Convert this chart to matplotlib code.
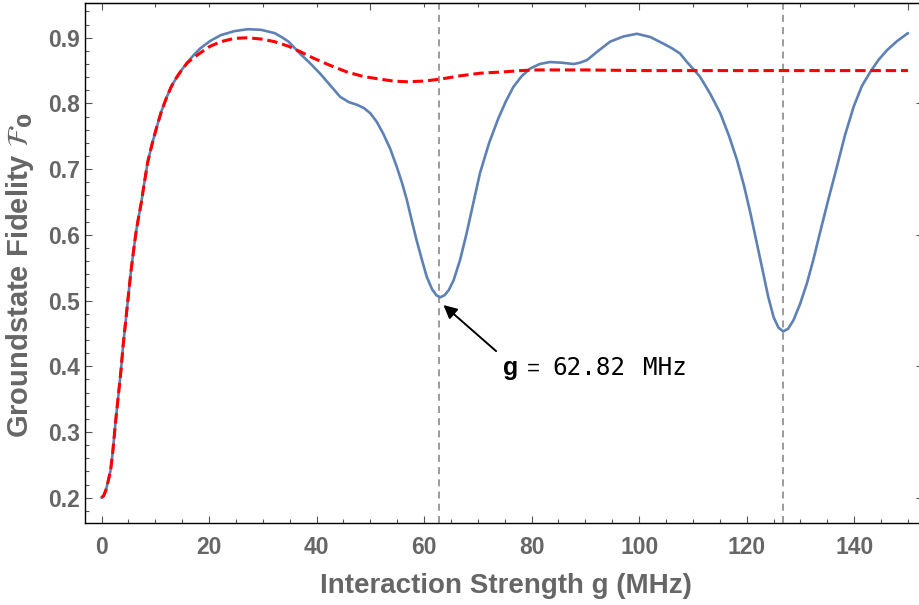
import matplotlib
matplotlib.use("Agg")
import matplotlib.pyplot as plt
from matplotlib.ticker import MultipleLocator

# ---- data ----
blue_x = [0.0, 0.4, 0.8, 1.2, 1.7, 2.1, 2.6, 3.1, 3.6, 4.0, 4.5, 5.0, 5.5, 6.0, 6.4,
          6.9, 7.4, 8.0, 8.6, 9.4, 10.2, 11.1, 12.1, 13.0, 14.0, 15.0, 16.0, 17.2,
          18.4, 20.2, 22.2, 24.7, 27.2, 29.7, 32.2, 33.5, 34.8, 36.9, 38.7, 40.6,
          42.5, 44.4, 46.0, 47.5, 48.8, 50.0, 51.2, 52.4, 53.7, 54.9, 55.9, 56.8,
          57.7, 58.6, 59.6, 60.5, 61.5, 62.3, 63.0, 63.8, 64.6, 65.5, 66.7, 67.9,
          69.2, 70.4, 72.1, 73.8, 75.2, 76.6, 78.1, 79.7, 81.5, 83.4, 85.6, 87.8,
          89.0, 90.3, 92.4, 94.6, 97.1, 99.6, 102.1, 104.5, 106.1, 107.6, 108.9,
          111.3, 113.2, 115.1, 116.7, 118.2, 119.5, 120.7, 121.9, 123.1, 124.0,
          125.0, 125.9, 126.8, 127.7, 128.7, 129.9, 131.2, 132.4, 133.6, 135.2,
          136.8, 138.3, 139.9, 141.4, 143.0, 144.5, 146.1, 148.0, 150.0]
blue_y = [0.200, 0.203, 0.211, 0.224, 0.242, 0.270, 0.314, 0.353, 0.392, 0.430, 0.469,
          0.508, 0.546, 0.578, 0.603, 0.627, 0.649, 0.681, 0.711, 0.738, 0.762, 0.787,
          0.809, 0.826, 0.840, 0.852, 0.863, 0.874, 0.884, 0.895, 0.904, 0.910, 0.913,
          0.912, 0.907, 0.901, 0.894, 0.876, 0.862, 0.846, 0.828, 0.810, 0.802, 0.798,
          0.793, 0.785, 0.772, 0.754, 0.731, 0.704, 0.679, 0.653, 0.622, 0.592, 0.562,
          0.536, 0.517, 0.508, 0.505, 0.508, 0.516, 0.531, 0.562, 0.602, 0.650, 0.694,
          0.740, 0.777, 0.803, 0.825, 0.841, 0.853, 0.860, 0.863, 0.862, 0.860, 0.862,
          0.866, 0.880, 0.894, 0.902, 0.906, 0.901, 0.891, 0.884, 0.876, 0.863, 0.841,
          0.815, 0.785, 0.751, 0.714, 0.675, 0.633, 0.587, 0.541, 0.506, 0.475, 0.459,
          0.453, 0.457, 0.470, 0.494, 0.526, 0.562, 0.602, 0.654, 0.704, 0.752, 0.795,
          0.826, 0.848, 0.866, 0.881, 0.895, 0.907]

red_x = [0.0, 0.4, 0.8, 1.2, 1.7, 2.1, 2.6, 3.1, 3.6, 4.0, 4.5, 5.0, 5.5, 6.0, 6.4,
         6.9, 7.4, 8.0, 8.6, 9.4, 10.2, 11.1, 12.1, 13.0, 14.0, 15.0, 16.0, 17.2,
         18.4, 20.2, 22.2, 24.7, 27.2, 29.7, 32.2, 34.8, 36.9, 39.4, 42.5, 45.6,
         48.7, 51.8, 54.3, 56.8, 60.0, 63.0, 66.7, 70.4, 74.8, 78.0, 81.0, 90.0,
         100.0, 120.0, 150.0]
red_y = [0.200, 0.203, 0.211, 0.224, 0.242, 0.270, 0.314, 0.353, 0.392, 0.430, 0.469,
         0.508, 0.546, 0.578, 0.603, 0.627, 0.649, 0.681, 0.711, 0.738, 0.762, 0.787,
         0.809, 0.826, 0.840, 0.852, 0.862, 0.870, 0.877, 0.887, 0.894, 0.899, 0.900,
         0.898, 0.894, 0.887, 0.879, 0.869, 0.858, 0.848, 0.841, 0.837, 0.834, 0.833,
         0.834, 0.837, 0.842, 0.846, 0.848, 0.850, 0.851, 0.851, 0.850, 0.850, 0.850]

vlines_x = [62.82, 126.8]
x_ticks = [0, 20, 40, 60, 80, 100, 120, 140]
y_ticks = [0.2, 0.3, 0.4, 0.5, 0.6, 0.7, 0.8, 0.9]
annot_value = "62.82"

GRAY = "#666666"
fig = plt.figure(figsize=(9.2, 6.05), dpi=100)
ax = fig.add_axes([85/920, (605-522.7)/605, (923-85)/920, (522.7-3.3)/605])

ax.plot(blue_x, blue_y, color="#5E81B5", lw=1.9, solid_capstyle="round",
        solid_joinstyle="round", zorder=3)
ax.plot(red_x, red_y, color="#FF0000", lw=2.2, dashes=(3.4, 1.6),
        dash_capstyle="butt", dash_joinstyle="round", zorder=4)
for xv in vlines_x:
    ax.axvline(xv, color="#808080", lw=1.1, dashes=(4.6, 3.4), zorder=2)

ax.set_xlim(-3.07, 152.8)
ax.set_ylim(0.1619, 0.9524)

ax.set_xticks(x_ticks)
ax.set_yticks(y_ticks)
ax.xaxis.set_minor_locator(MultipleLocator(5))
ax.yaxis.set_minor_locator(MultipleLocator(0.02))
ax.set_xticklabels([str(v) for v in x_ticks])
ax.set_yticklabels([f"{v:.1f}" for v in y_ticks])
ax.tick_params(which="both", direction="in", color="#555555", width=0.8,
               top=False, right=False)
ax.tick_params(which="major", length=5)
ax.tick_params(which="minor", length=3)
ax.tick_params(axis="x", pad=9.4)
ax.tick_params(axis="y", pad=3.6)
for lab in ax.get_xticklabels() + ax.get_yticklabels():
    lab.set_fontfamily("Liberation Sans")
    lab.set_fontweight("bold")
    lab.set_fontsize(16.5)
    lab.set_color(GRAY)

for sp in ax.spines.values():
    sp.set_color("black")
    sp.set_linewidth(1.0)

# top / right frame ticks (no labels)
top = ax.secondary_xaxis("top")
top.xaxis.set_major_locator(MultipleLocator(50))
top.xaxis.set_minor_locator(MultipleLocator(10))
top.tick_params(which="both", direction="in", color="#555555", width=0.8,
                labeltop=False)
top.tick_params(which="major", length=5)
top.tick_params(which="minor", length=3)
top.spines["top"].set_color("black")
right = ax.secondary_yaxis("right")
right.yaxis.set_major_locator(MultipleLocator(0.2))
right.tick_params(which="both", direction="in", color="#555555", width=0.8,
                  labelright=False, length=5)

ax.set_xlabel("Interaction Strength g (MHz)", fontfamily="Liberation Sans",
              fontweight="bold", fontsize=20, color=GRAY)
ax.xaxis.set_label_coords(0.502, -0.097)
ax.set_ylabel(r"Groundstate Fidelity $\mathcal{F}_\mathbf{0}$",
              fontfamily="Liberation Sans", fontweight="bold", fontsize=21,
              color=GRAY)
ax.yaxis.set_label_coords(-0.058, 0.477)

# annotation
ax.annotate("", xy=(63.6, 0.4932), xytext=(73.4, 0.423),
            arrowprops=dict(arrowstyle="-|>", color="black", lw=1.4,
                            mutation_scale=20, shrinkA=0, shrinkB=0), zorder=5)
ax.text(74.7, 0.3866, "g", fontfamily="Liberation Sans", fontweight="bold",
        fontsize=18, color="black", va="baseline", ha="left")
ax.text(79.2, 0.3866, "=", fontfamily="Liberation Sans", fontsize=16,
        color="black", va="baseline", ha="left")
ax.text(83.8, 0.3866, annot_value, fontfamily="DejaVu Sans Mono", fontsize=17.5,
        color="black", va="baseline", ha="left")
ax.text(100.7, 0.3866, "MHz", fontfamily="DejaVu Sans Mono", fontsize=17.5,
        color="black", va="baseline", ha="left")

fig.savefig("out.png", dpi=100)
